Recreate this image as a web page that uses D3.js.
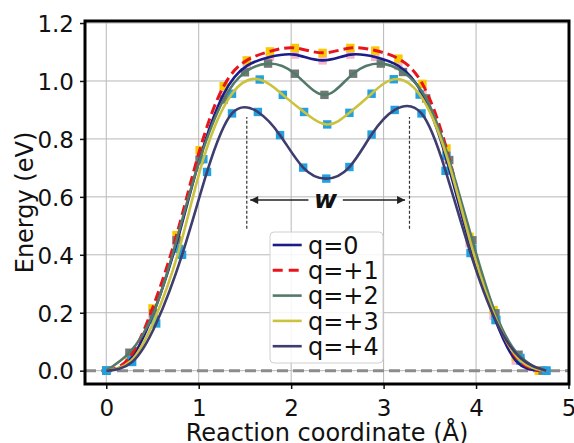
<!DOCTYPE html>
<html>
<head>
<meta charset="utf-8">
<script src="https://cdn.jsdelivr.net/npm/d3@7"></script>
<style>
  body { margin: 0; background: #fff; }
  text { font-family: "DejaVu Sans", sans-serif; fill: #111; }
</style>
</head>
<body>
<div id="vis"></div>
<script>
// set margin
const margin = { top: 21, right: 5, bottom: 59, left: 85 };
const width = 574 - margin.left - margin.right;
const height = 443 - margin.top - margin.bottom;

// NEB images, one x / y list per charge state
const labels = ['q=0', 'q=+1', 'q=+2', 'q=+3', 'q=+4']

const xQ0 = [0, 0.25, 0.50, 0.76, 1.01, 1.27, 1.52, 1.77, 2.04, 2.34, 2.64, 2.91, 3.16, 3.42, 3.68, 3.93, 4.19, 4.43, 4.68]
const yQ0 = [0, 0.035, 0.19, 0.44, 0.73, 0.955, 1.052, 1.083, 1.091, 1.071, 1.091, 1.083, 1.052, 0.955, 0.73, 0.44, 0.19, 0.035, 0]

const xQ1 = [0, 0.25, 0.50, 0.76, 1.01, 1.27, 1.52, 1.77, 2.04, 2.34, 2.64, 2.91, 3.16, 3.42, 3.68, 3.93, 4.19, 4.43, 4.68]
const yQ1 = [0, 0.045, 0.215, 0.468, 0.761, 0.982, 1.071, 1.102, 1.114, 1.097, 1.114, 1.105, 1.077, 0.99, 0.767, 0.462, 0.209, 0.048, 0]

const xQ2 = [0, 0.25, 0.51, 0.76, 1.01, 1.27, 1.50, 1.75, 2.04, 2.36, 2.67, 2.97, 3.21, 3.46, 3.71, 3.96, 4.21, 4.46, 4.72]
const yQ2 = [0, 0.062, 0.198, 0.45, 0.727, 0.936, 1.03, 1.06, 1.025, 0.952, 1.025, 1.06, 1.031, 0.94, 0.727, 0.45, 0.198, 0.055, 0]

const xQ3 = [0, 0.27, 0.52, 0.79, 1.05, 1.36, 1.66, 1.91, 2.14, 2.39, 2.63, 2.87, 3.11, 3.39, 3.68, 3.96, 4.22, 4.48, 4.76]
const yQ3 = [0, 0.035, 0.175, 0.42, 0.73, 0.956, 1.005, 0.952, 0.893, 0.85, 0.89, 0.956, 1.006, 0.953, 0.742, 0.42, 0.175, 0.035, 0]

const xQ4 = [0, 0.28, 0.54, 0.82, 1.09, 1.36, 1.64, 1.88, 2.13, 2.38, 2.63, 2.87, 3.12, 3.41, 3.67, 3.94, 4.21, 4.48, 4.76]
const yQ4 = [0, 0.03, 0.163, 0.40, 0.686, 0.888, 0.893, 0.813, 0.701, 0.663, 0.703, 0.815, 0.9, 0.888, 0.69, 0.406, 0.175, 0.044, 0]

// ticks
const xTicks = [0, 1, 2, 3, 4, 5]
const yTicks = [0.0, 0.2, 0.4, 0.6, 0.8, 1.0, 1.2]

// width annotation (data units)
const wLinesX = [1.52, 3.28]
const wLinesY = [0.49, 0.876]
const wArrowY = 0.589
const wArrowTails = [2.187, 2.559]
const wArrowTips = [1.557, 3.232]

const lineColors = ['#1b1b8a', '#e8141c', '#537a69', '#cbc23d', '#3d3d6e']
const markerColors = ['#f2b6cf', '#f8c800', '#707a74', '#22a0e0', '#22a0e0']

let series = []
let xScale, yScale

const svg = d3.select('#vis')
    .append('svg')
    .attr('width', width + margin.left + margin.right)
    .attr('height', height + margin.top + margin.bottom)
    .append('g')
    .attr('transform', `translate(${margin.left},${margin.top})`);

function init(){
    const xs = [xQ0, xQ1, xQ2, xQ3, xQ4]
    const ys = [yQ0, yQ1, yQ2, yQ3, yQ4]
    series = labels.map((name, i) => ({
        name: name,
        points: xs[i].map((x, j) => ({ x: x, y: ys[i][j] })),
        color: lineColors[i],
        marker: markerColors[i]
    }))

    xScale = d3.scaleLinear().domain([-0.23, 5.0]).range([0, width - 0.5])
    yScale = d3.scaleLinear().domain([-0.046, 1.207]).range([height, 0])

    drawAxes()
    drawCurves()
    drawWidth()
    addLegend()
}

function drawAxes(){
    // grid
    svg.selectAll('.gridx')
        .data(xTicks)
        .join('line')
        .attr('class', 'gridx')
        .attr('x1', d => xScale(d)).attr('x2', d => xScale(d))
        .attr('y1', 0).attr('y2', height)
        .style('stroke', '#b8b8b8').style('stroke-width', 1)

    svg.selectAll('.gridy')
        .data(yTicks)
        .join('line')
        .attr('class', 'gridy')
        .attr('x1', 0).attr('x2', width)
        .attr('y1', d => yScale(d)).attr('y2', d => yScale(d))
        .style('stroke', '#b8b8b8').style('stroke-width', 1)

    // zero line
    svg.append('line')
        .attr('x1', 0).attr('x2', width)
        .attr('y1', yScale(0)).attr('y2', yScale(0))
        .style('stroke', '#8c8c8c')
        .style('stroke-width', 3)
        .style('stroke-dasharray', '11,5')

    const xAxis = d3.axisBottom(xScale)
        .tickValues(xTicks)
        .tickSize(5)
        .tickPadding(6)
        .tickFormat(d3.format('d'))
    const gx = svg.append('g')
        .attr('transform', `translate(0,${height})`)
        .call(xAxis)
    gx.select('.domain').remove()
    gx.selectAll('line').style('stroke', '#111').style('stroke-width', 1.5)
    gx.selectAll('text').style('font-size', '23px').attr('dy', '0.9em')

    const yAxis = d3.axisLeft(yScale)
        .tickValues(yTicks)
        .tickSize(5)
        .tickPadding(6)
        .tickFormat(d3.format('.1f'))
    const gy = svg.append('g').call(yAxis)
    gy.select('.domain').remove()
    gy.selectAll('line').style('stroke', '#111').style('stroke-width', 1.5)
    gy.selectAll('text').style('font-size', '23px').attr('dy', '0.36em')

    // labels
    svg.append('text')
        .attr('x', width / 2)
        .attr('y', height + 57)
        .attr('text-anchor', 'middle')
        .style('font-size', '24px')
        .text('Reaction coordinate (Å)')

    svg.append('text')
        .attr('transform', 'rotate(-90)')
        .attr('x', -height / 2)
        .attr('y', -52)
        .attr('text-anchor', 'middle')
        .style('font-size', '24px')
        .text('Energy (eV)')
}

function drawCurves(){
    const line = d3.line()
        .x(d => xScale(d.x))
        .y(d => yScale(d.y))
        .curve(d3.curveNatural)

    series.forEach((s, i) => {
        svg.selectAll('.m' + i)
            .data(s.points)
            .join('rect')
            .attr('class', 'm' + i)
            .attr('x', d => xScale(d.x) - 4.2)
            .attr('y', d => yScale(d.y) - 4.2)
            .attr('width', 8.4)
            .attr('height', 8.4)
            .style('fill', s.marker)
    })

    series.forEach((s, i) => {
        svg.append('path')
            .datum(s.points)
            .attr('d', line)
            .style('fill', 'none')
            .style('stroke', s.color)
            .style('stroke-width', i === 1 ? 3 : 2.6)
            .style('stroke-dasharray', i === 1 ? '10,5' : null)
    })

    // spines
    svg.append('rect')
        .attr('x', 0).attr('y', 0)
        .attr('width', width).attr('height', height)
        .style('fill', 'none')
        .style('stroke', '#000')
        .style('stroke-width', 3)
}

function drawWidth(){
    svg.selectAll('.wline')
        .data(wLinesX)
        .join('line')
        .attr('class', 'wline')
        .attr('x1', d => xScale(d)).attr('x2', d => xScale(d))
        .attr('y1', yScale(wLinesY[0])).attr('y2', yScale(wLinesY[1]))
        .style('stroke', '#333')
        .style('stroke-width', 1.2)
        .style('stroke-dasharray', '3,2')

    svg.append('defs').append('marker')
        .attr('id', 'head')
        .attr('viewBox', '0 0 10 10')
        .attr('refX', 10).attr('refY', 5)
        .attr('markerWidth', 10).attr('markerHeight', 8)
        .attr('markerUnits', 'userSpaceOnUse')
        .attr('orient', 'auto')
        .append('path')
        .attr('d', 'M0,0L10,5L0,10Z')
        .style('fill', '#222')

    svg.selectAll('.warrow')
        .data(wArrowTips)
        .join('line')
        .attr('class', 'warrow')
        .attr('x1', (d, i) => xScale(wArrowTails[i]))
        .attr('x2', d => xScale(d))
        .attr('y1', yScale(wArrowY)).attr('y2', yScale(wArrowY))
        .style('stroke', '#222')
        .style('stroke-width', 1.5)
        .attr('marker-end', 'url(#head)')

    svg.append('text')
        .attr('x', xScale((wArrowTails[0] + wArrowTails[1]) / 2))
        .attr('y', yScale(wArrowY))
        .attr('dy', '0.3em')
        .attr('text-anchor', 'middle')
        .style('font-size', '25px')
        .style('font-weight', 'bold')
        .style('font-style', 'italic')
        .text('w')
}

function addLegend(){
    const lx = 270 - margin.left, ly = 232 - margin.top
    const lg = svg.append('g').attr('transform', `translate(${lx},${ly})`)

    lg.append('rect')
        .attr('width', 113).attr('height', 131)
        .attr('rx', 4)
        .style('fill', '#fff').style('fill-opacity', 0.85)
        .style('stroke', '#d0d0d0').style('stroke-width', 1)

    lg.selectAll('.lline')
        .data(series)
        .join('line')
        .attr('class', 'lline')
        .attr('x1', 2.7).attr('x2', 31.7)
        .attr('y1', (d, i) => 13 + i * 25.3)
        .attr('y2', (d, i) => 13 + i * 25.3)
        .style('stroke', d => d.color)
        .style('stroke-width', (d, i) => i === 1 ? 3 : 2.6)
        .style('stroke-dasharray', (d, i) => i === 1 ? '10,6' : null)

    lg.selectAll('.ltext')
        .data(series)
        .join('text')
        .attr('class', 'ltext')
        .attr('x', 38)
        .attr('y', (d, i) => 13 + i * 25.3)
        .attr('dy', '0.36em')
        .style('font-size', '24px')
        .text(d => d.name)
}

window.addEventListener('load', init);
</script>
</body>
</html>
